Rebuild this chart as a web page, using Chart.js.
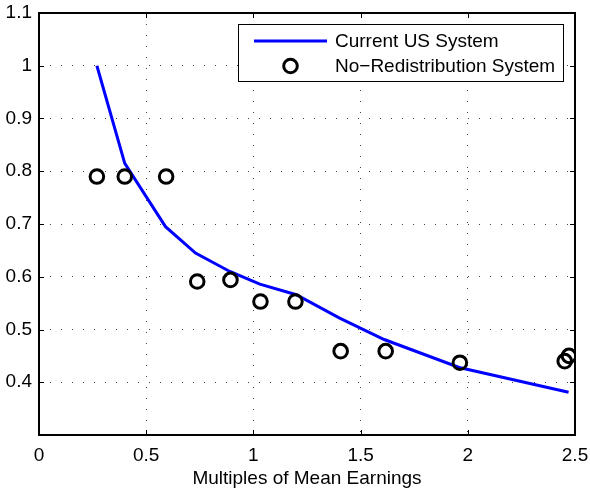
<!DOCTYPE html>
<html>
<head>
<meta charset="utf-8">
<script src="https://cdn.jsdelivr.net/npm/chart.js@4"></script>
<style>
  html, body { margin: 0; padding: 0; background: #fff; }
  #wrap { width: 590px; height: 490px; }
</style>
</head>
<body>
<div id="wrap"><canvas id="chart" width="590" height="490"></canvas></div>
<script>
// Current US System (blue curve)
const curveX = [0.27, 0.40, 0.59, 0.73, 0.89, 1.03, 1.20, 1.40, 1.61, 1.96, 2.47];
const curveY = [1.0, 0.815, 0.695, 0.645, 0.61, 0.586, 0.566, 0.522, 0.481, 0.428, 0.381];
// No-Redistribution System (circles)
const circleX = [0.27, 0.40, 0.593, 0.738, 0.893, 1.033, 1.196, 1.407, 1.617, 1.963, 2.452, 2.472];
const circleY = [0.79, 0.79, 0.79, 0.591, 0.594, 0.553, 0.553, 0.459, 0.459, 0.437, 0.44, 0.45];

const xTicks = [0, 0.5, 1, 1.5, 2, 2.5];
const yTicks = [0.4, 0.5, 0.6, 0.7, 0.8, 0.9, 1.0, 1.1];
const seriesNames = ['Current US System', 'No\u2212Redistribution System'];
const xTitle = 'Multiples of Mean Earnings';

const FONT = 'Liberation Sans, Arial, Helvetica, sans-serif';

const toPoints = (xs, ys) => xs.map((x, i) => ({ x, y: ys[i] }));

// drop the label overflow padding so the plot box sits where the layout padding says
const noPad = (scale) => {
  scale.paddingTop = 0; scale.paddingBottom = 0;
  scale.paddingLeft = 0; scale.paddingRight = 0;
};

// MATLAB-style frame with inward ticks on all four sides
const framePlugin = {
  id: 'frame',
  afterDatasetsDraw(chart) {
    const { ctx, chartArea: a, scales: { x, y } } = chart;
    ctx.save();
    ctx.strokeStyle = '#000';
    ctx.lineWidth = 1;
    const tl = 5;
    ctx.beginPath();
    xTicks.forEach((v) => {
      const px = Math.round(x.getPixelForValue(v)) + 0.5;
      ctx.moveTo(px, a.bottom); ctx.lineTo(px, a.bottom - tl);
      ctx.moveTo(px, a.top); ctx.lineTo(px, a.top + tl);
    });
    yTicks.forEach((v) => {
      const py = Math.round(y.getPixelForValue(v)) + 0.5;
      ctx.moveTo(a.left, py); ctx.lineTo(a.left + tl, py);
      ctx.moveTo(a.right, py); ctx.lineTo(a.right - tl, py);
    });
    ctx.stroke();
    ctx.lineWidth = 2;
    ctx.strokeRect(Math.round(a.left), Math.round(a.top), Math.round(a.right - a.left), Math.round(a.bottom - a.top));
    ctx.restore();
  }
};

// legend box inside the plot, top right
const legendPlugin = {
  id: 'boxLegend',
  afterDraw(chart) {
    const { ctx } = chart;
    const ds = chart.data.datasets;
    const bx = 238, by = 24, bw = 325, bh = 57;
    ctx.save();
    ctx.fillStyle = '#fff';
    ctx.fillRect(bx, by, bw, bh);
    ctx.strokeStyle = '#000';
    ctx.lineWidth = 1;
    ctx.strokeRect(bx + 0.5, by + 0.5, bw, bh);

    const row1 = by + 17, row2 = by + 42;
    ctx.strokeStyle = ds[0].borderColor;
    ctx.lineWidth = 3;
    ctx.beginPath();
    ctx.moveTo(254, row1); ctx.lineTo(327, row1);
    ctx.stroke();

    ctx.strokeStyle = ds[1].borderColor;
    ctx.lineWidth = 3;
    ctx.beginPath();
    ctx.arc(290.5, row2, 6.8, 0, Math.PI * 2);
    ctx.stroke();

    ctx.fillStyle = '#000';
    ctx.font = '19px ' + FONT;
    ctx.textBaseline = 'middle';
    ctx.textAlign = 'left';
    ctx.fillText(ds[0].label, 335, row1 + 1);
    ctx.fillText(ds[1].label, 335, row2 + 1);
    ctx.restore();
  }
};

new Chart(document.getElementById('chart'), {
  type: 'scatter',
  data: {
    datasets: [
      {
        label: seriesNames[0],
        data: toPoints(curveX, curveY),
        showLine: true,
        borderColor: '#0000ff',
        backgroundColor: '#0000ff',
        borderWidth: 3,
        pointRadius: 0,
        tension: 0,
        order: 2
      },
      {
        label: seriesNames[1],
        data: toPoints(circleX, circleY),
        showLine: false,
        borderColor: '#000000',
        backgroundColor: 'rgba(0,0,0,0)',
        borderWidth: 3,
        pointRadius: 6.8,
        order: 1
      }
    ]
  },
  options: {
    responsive: false,
    animation: false,
    devicePixelRatio: 1,
    layout: { padding: { top: 13, right: 15, left: 0, bottom: 0 } },
    plugins: { legend: { display: false }, tooltip: { enabled: false } },
    scales: {
      x: {
        type: 'linear',
        min: 0,
        max: 2.5,
        afterBuildTicks: (scale) => { scale.ticks = xTicks.map((v) => ({ value: v })); },
        afterFit: (scale) => { scale.height = 55; noPad(scale); },
        ticks: {
          color: '#000',
          padding: 9,
          maxRotation: 0,
          font: { family: FONT, size: 19 },
          callback: (v) => String(v)
        },
        grid: { color: '#444', lineWidth: 1, drawTicks: false },
        border: { display: false, dash: [1, 10] },
        title: {
          display: true,
          text: xTitle,
          color: '#000',
          font: { family: FONT, size: 19 },
          padding: { top: 0, bottom: 0 }
        }
      },
      y: {
        type: 'linear',
        min: 0.3,
        max: 1.1,
        afterBuildTicks: (scale) => { scale.ticks = yTicks.map((v) => ({ value: v })); },
        afterFit: (scale) => { scale.width = 39; noPad(scale); },
        ticks: {
          color: '#000',
          padding: 7,
          font: { family: FONT, size: 19 },
          callback: (v) => String(Math.round(v * 10) / 10)
        },
        grid: { color: '#444', lineWidth: 1, drawTicks: false },
        border: { display: false, dash: [1, 10] }
      }
    }
  },
  plugins: [framePlugin, legendPlugin]
});
</script>
</body>
</html>
